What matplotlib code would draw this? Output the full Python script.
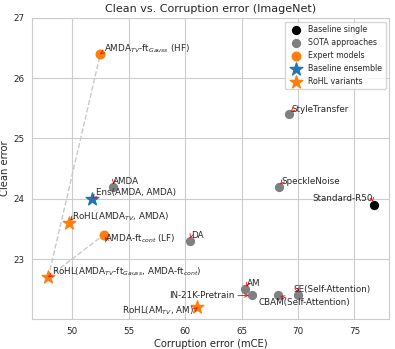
import numpy as np
import matplotlib
matplotlib.use("Agg")
import matplotlib.pyplot as plt
import seaborn as sns

sns.set_style("whitegrid")

# data: (corruption error mCE, clean error)
baseline_names = ["Standard-R50"]
baseline_mce = [76.7]
baseline_clean = [23.9]

sota_names = ["StyleTransfer", "SpeckleNoise", "AMDA", "DA", "AM",
              "IN-21K-Pretrain", "CBAM(Self-Attention)", "SE(Self-Attention)"]
sota_mce = [69.2, 68.3, 53.6, 60.4, 65.3, 65.9, 68.2, 70.0]
sota_clean = [25.4, 24.2, 24.2, 23.3, 22.5, 22.4, 22.4, 22.4]

expert_names = [r"AMDA$_{TV}$-ft$_{Gauss}$ (HF)", r"AMDA-ft$_{cont}$ (LF)"]
expert_mce = [52.5, 52.8]
expert_clean = [26.4, 23.4]

ens_names = ["Ens(AMDA, AMDA)"]
ens_mce = [51.8]
ens_clean = [24.0]

rohl_names = [r"RoHL(AMDA$_{TV}$, AMDA)",
              r"RoHL(AMDA$_{TV}$-ft$_{Gauss}$, AMDA-ft$_{cont}$)",
              r"RoHL(AM$_{TV}$, AM)"]
rohl_mce = [49.7, 47.9, 61.1]
rohl_clean = [23.6, 22.7, 22.2]

# label placement (text x, text y, ha, arrow start on the text box)
label_pos = {
    "Standard-R50": (76.6, 24.0, "right", (1, 0.3)),
    "StyleTransfer": (69.45, 25.48, "left", (0, 0.3)),
    "SpeckleNoise": (68.5, 24.28, "left", (0, 0.3)),
    "AMDA": (53.65, 24.28, "left", (0, 0.3)),
    "DA": (60.5, 23.39, "left", (0, 0.3)),
    "AM": (65.5, 22.6, "left", (0, 0.3)),
    "IN-21K-Pretrain": (58.6, 22.39, "left", (1, 0.5)),
    "CBAM(Self-Attention)": (66.5, 22.28, "left", (0.3, 1)),
    "SE(Self-Attention)": (69.6, 22.5, "left", (0.05, 0.2)),
    expert_names[0]: (52.8, 26.48, "left", (0, 0.3)),
    expert_names[1]: (52.95, 23.33, "left", (0, 0.6)),
    "Ens(AMDA, AMDA)": (52.15, 24.1, "left", (0, 0.3)),
    rohl_names[0]: (49.95, 23.7, "left", (0, 0.3)),
    rohl_names[1]: (48.25, 22.79, "left", (0, 0.3)),
    rohl_names[2]: (60.8, 22.15, "right", (1, 0.5)),
}

fig = plt.figure(figsize=(3.95, 3.49), dpi=100)
ax = fig.add_axes([0.081, 0.085, 0.905, 0.864])

# dashed lines from the combined model to its experts
for i in range(len(expert_mce)):
    ax.plot([rohl_mce[1], expert_mce[i]], [rohl_clean[1], expert_clean[i]],
            ls="--", color="#c8c8c8", lw=1, zorder=1)

ax.scatter(baseline_mce, baseline_clean, s=32, c="black", label="Baseline single", zorder=3)
ax.scatter(sota_mce, sota_clean, s=32, c="gray", label="SOTA approaches", zorder=3)
ax.scatter(expert_mce, expert_clean, s=38, c="#ff7f0e", label="Expert models", zorder=3)
ax.scatter(ens_mce, ens_clean, s=90, c="#1f77b4", marker="*", label="Baseline ensemble", zorder=3)
ax.scatter(rohl_mce, rohl_clean, s=90, c="#ff7f0e", marker="*", label="RoHL variants", zorder=3)

names = baseline_names + sota_names + expert_names + ens_names + rohl_names
xs = baseline_mce + sota_mce + expert_mce + ens_mce + rohl_mce
ys = baseline_clean + sota_clean + expert_clean + ens_clean + rohl_clean
for n, x, y in zip(names, xs, ys):
    tx, ty, ha, rel = label_pos[n]
    ax.annotate(n, xy=(x, y), xytext=(tx, ty), ha=ha, va="center", fontsize=6.3,
                color="#262626", zorder=4,
                arrowprops=dict(arrowstyle="->", color="red", lw=0.6,
                                shrinkA=0, shrinkB=2, relpos=rel))

ax.set_xlim(46.45, 78.1)
ax.set_ylim(22.0, 27.0)
ax.set_xticks([50, 55, 60, 65, 70, 75])
ax.set_yticks([23, 24, 25, 26, 27])
ax.tick_params(labelsize=6.3, pad=2)
ax.set_xlabel("Corruption error (mCE)", fontsize=7.2, labelpad=2)
ax.set_ylabel("Clean error", fontsize=7.2, labelpad=2)
ax.set_title("Clean vs. Corruption error (ImageNet)", fontsize=8, pad=4)
ax.legend(loc="upper right", fontsize=5.7, frameon=True, handletextpad=0.6)

fig.savefig("out.png", dpi=100)
